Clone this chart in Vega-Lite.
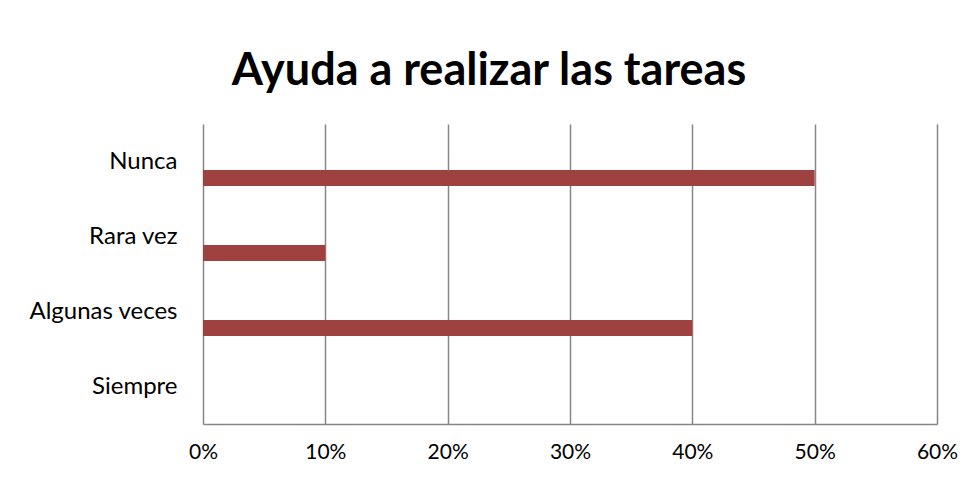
{
  "$schema": "https://vega.github.io/schema/vega-lite/v6.json",
  "autosize": {"type": "none"},
  "width": 734,
  "height": 300,
  "padding": {"left": 203, "top": 124, "right": 40, "bottom": 59},
  "background": "white",
  "title": {
    "text": "Ayuda a realizar las tareas",
    "font": "Lato",
    "fontWeight": "bold",
    "fontSize": 45,
    "color": "#000000",
    "anchor": "middle",
    "frame": "bounds",
    "offset": 30,
    "dx": -4
  },
  "data": {
    "values": [
      {"respuesta": "Nunca", "porcentaje": 0.5},
      {"respuesta": "Rara vez", "porcentaje": 0.1},
      {"respuesta": "Algunas veces", "porcentaje": 0.4},
      {"respuesta": "Siempre", "porcentaje": 0.0}
    ]
  },
  "mark": {"type": "bar", "color": "#9F4141", "height": 16, "yOffset": 16.5},
  "encoding": {
    "y": {
      "field": "respuesta",
      "type": "nominal",
      "sort": ["Nunca", "Rara vez", "Algunas veces", "Siempre"],
      "scale": {"paddingInner": 0, "paddingOuter": 0},
      "axis": {
        "title": null,
        "ticks": false,
        "domain": false,
        "grid": false,
        "labelFont": "Lato",
        "labelFontSize": 24,
        "labelColor": "#000000",
        "labelPadding": 26,
        "labelExpr": "datum.value == 'Siempre' ? 'Siempre  ' : datum.value"
      }
    },
    "x": {
      "field": "porcentaje",
      "type": "quantitative",
      "scale": {"domain": [0, 0.6], "nice": false},
      "axis": {
        "title": null,
        "format": ".0%",
        "values": [0, 0.1, 0.2, 0.3, 0.4, 0.5, 0.6],
        "ticks": false,
        "domain": true,
        "domainColor": "#868686",
        "domainWidth": 1.5,
        "grid": true,
        "gridColor": "#868686",
        "gridWidth": 1.5,
        "gridOpacity": 1,
        "labelFont": "Lato",
        "labelFontSize": 21,
        "labelColor": "#000000",
        "labelPadding": 17,
        "labelFlush": false
      }
    }
  },
  "config": {"view": {"stroke": null}}
}
